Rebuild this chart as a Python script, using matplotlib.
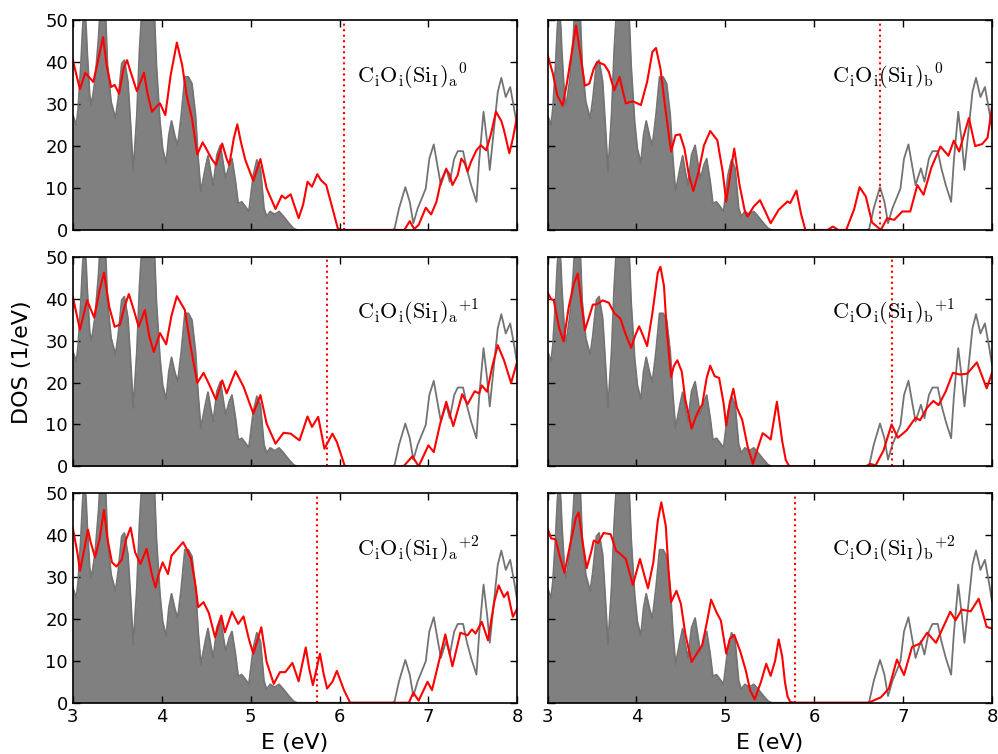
import numpy as np
import matplotlib
matplotlib.use('Agg')
import matplotlib.pyplot as plt

plt.rcParams['mathtext.fontset'] = 'cm'
plt.rcParams['font.family'] = ['DejaVu Sans']

# bulk Si DOS (gray, same in every panel)
E_bulk = [3.00, 3.04, 3.06, 3.09, 3.11, 3.13, 3.15, 3.16, 3.19, 3.21, 3.25, 3.29,
          3.30, 3.33, 3.37, 3.39, 3.43, 3.48, 3.51, 3.55, 3.58, 3.62, 3.65, 3.68,
          3.72, 3.75, 3.77, 3.81, 3.85, 3.89, 3.92, 3.94, 3.98, 4.01, 4.05, 4.08,
          4.11, 4.15, 4.18, 4.22, 4.26, 4.30, 4.34, 4.38, 4.41, 4.44, 4.49, 4.52,
          4.55, 4.58, 4.62, 4.66, 4.70, 4.72, 4.76, 4.79, 4.83, 4.86, 4.90, 4.94,
          4.98, 5.03, 5.07, 5.11, 5.15, 5.18, 5.22, 5.27, 5.32, 5.37, 5.43, 5.48,
          5.52, 6.60, 6.62, 6.67, 6.74, 6.79, 6.83, 6.88, 6.94, 6.97, 7.01, 7.06,
          7.10, 7.14, 7.20, 7.24, 7.29, 7.33, 7.39, 7.43, 7.48, 7.54, 7.57, 7.62,
          7.66, 7.69, 7.73, 7.78, 7.82, 7.87, 7.92, 7.97, 8.00]
dos_bulk = [27.4, 25.0, 29.0, 39.3, 48.0, 54.0, 48.0, 43.0, 32.0, 29.8, 35.7, 46.0,
            50.0, 58.0, 50.0, 39.3, 30.6, 26.6, 31.3, 39.7, 40.5, 35.3, 25.0, 13.9,
            27.4, 43.0, 50.0, 64.0, 68.0, 62.0, 50.0, 39.3, 25.8, 19.4, 15.9, 22.6,
            26.0, 22.2, 20.2, 27.4, 36.5, 36.5, 34.9, 27.4, 17.0, 9.1, 14.7, 17.7,
            13.9, 10.7, 17.9, 20.2, 14.7, 12.3, 15.5, 17.0, 11.5, 6.3, 6.7, 5.6,
            4.4, 13.1, 16.7, 14.7, 5.2, 3.2, 4.4, 3.7, 4.4, 3.2, 1.6, 0.4,
            0.0, 0.0, 0.4, 5.2, 10.2, 6.7, 1.6, 5.2, 8.3, 9.9, 17.0, 20.4,
            15.5, 10.7, 14.7, 11.5, 17.0, 18.8, 18.8, 14.7, 10.7, 6.7, 16.3, 28.2,
            21.0, 14.3, 22.6, 32.9, 36.3, 31.7, 34.1, 28.2, 24.2]

# defect DOS (red)
E_a0 = [3.00, 3.05, 3.08, 3.14, 3.18, 3.23, 3.28, 3.34, 3.38, 3.43, 3.47, 3.52, 3.57,
        3.61, 3.65, 3.72, 3.80, 3.84, 3.89, 3.94, 3.98, 4.04, 4.10, 4.17, 4.23, 4.28,
        4.34, 4.40, 4.46, 4.51, 4.56, 4.61, 4.68, 4.73, 4.76, 4.81, 4.85, 4.89, 4.94,
        5.03, 5.11, 5.18, 5.28, 5.35, 5.39, 5.45, 5.54, 5.59, 5.64, 5.69, 5.75, 5.79,
        5.85, 5.91, 5.98, 6.02, 6.73, 6.79, 6.84, 6.89, 6.97, 7.03, 7.09, 7.14, 7.20,
        7.24, 7.27, 7.33, 7.37, 7.41, 7.44, 7.48, 7.54, 7.59, 7.65, 7.70, 7.76, 7.82,
        7.85, 7.91, 7.95, 8.00]
dos_a0 = [40.5, 36.1, 33.6, 37.5, 36.5, 35.3, 40.1, 46.0, 39.3, 34.1, 34.6, 32.5, 38.5,
          40.5, 37.7, 33.1, 37.5, 32.5, 28.2, 29.4, 30.2, 27.4, 36.9, 44.7, 39.3, 32.1,
          26.6, 18.0, 20.9, 19.0, 17.0, 15.5, 20.6, 17.0, 15.5, 21.8, 25.2, 21.0, 16.7,
          11.7, 16.9, 9.9, 5.0, 8.2, 7.5, 8.5, 2.8, 6.0, 11.5, 10.3, 13.3, 11.9,
          10.7, 6.0, 0.4, 0.0, 0.0, 2.1, 0.2, 1.2, 5.3, 3.7, 6.7, 11.5, 14.5,
          13.1, 10.7, 13.1, 17.0, 15.9, 13.9, 16.3, 19.0, 20.2, 19.0, 22.6, 28.2, 26.0,
          23.8, 18.3, 21.8, 27.4]

E_b0 = [3.00, 3.06, 3.11, 3.17, 3.22, 3.28, 3.32, 3.37, 3.42, 3.47, 3.52, 3.56, 3.64,
        3.69, 3.75, 3.81, 3.88, 3.96, 4.05, 4.12, 4.18, 4.22, 4.27, 4.33, 4.39, 4.44,
        4.49, 4.54, 4.59, 4.64, 4.70, 4.76, 4.83, 4.91, 4.97, 5.01, 5.06, 5.10, 5.16,
        5.22, 5.25, 5.32, 5.39, 5.45, 5.51, 5.60, 5.70, 5.73, 5.80, 5.85, 5.90, 6.15,
        6.21, 6.27, 6.36, 6.45, 6.51, 6.58, 6.65, 6.75, 6.82, 6.90, 6.99, 7.08, 7.16,
        7.23, 7.32, 7.42, 7.51, 7.57, 7.63, 7.74, 7.81, 7.89, 7.95, 8.00]
dos_b0 = [41.8, 37.3, 32.1, 29.6, 35.3, 43.3, 48.8, 41.7, 34.4, 34.9, 38.5, 40.1, 39.4,
          37.7, 33.3, 36.5, 30.2, 30.7, 29.8, 35.3, 42.5, 43.4, 38.5, 28.2, 18.7, 22.6,
          22.8, 19.4, 13.1, 9.3, 13.9, 20.2, 23.6, 21.4, 13.9, 6.7, 13.9, 19.4, 10.7,
          4.4, 3.2, 5.6, 7.1, 4.4, 1.6, 4.8, 6.8, 6.4, 9.4, 4.0, 0.0, 0.0,
          0.8, 0.0, 0.0, 5.0, 10.2, 8.0, 1.8, 0.0, 2.8, 2.4, 4.4, 4.4, 10.7,
          8.4, 15.0, 19.9, 17.7, 21.3, 18.7, 26.7, 20.0, 20.5, 22.0, 29.3]

E_a1 = [3.00, 3.08, 3.16, 3.24, 3.30, 3.35, 3.41, 3.47, 3.53, 3.58, 3.63, 3.69, 3.74,
        3.81, 3.86, 3.91, 3.98, 4.05, 4.11, 4.17, 4.26, 4.33, 4.40, 4.47, 4.53, 4.61,
        4.68, 4.73, 4.83, 4.92, 5.03, 5.11, 5.18, 5.28, 5.37, 5.45, 5.55, 5.64, 5.69,
        5.76, 5.83, 5.92, 5.97, 6.06, 6.72, 6.82, 6.89, 7.00, 7.06, 7.13, 7.20, 7.28,
        7.38, 7.44, 7.52, 7.57, 7.60, 7.66, 7.72, 7.78, 7.85, 7.93, 8.00]
dos_a1 = [40.4, 32.6, 39.6, 35.5, 42.0, 46.2, 38.0, 33.3, 33.8, 38.0, 41.1, 37.0, 33.3,
          37.3, 31.0, 27.3, 31.8, 29.1, 36.0, 40.6, 37.3, 28.0, 19.9, 22.3, 19.7, 15.9,
          20.5, 17.4, 22.7, 19.0, 12.6, 17.0, 10.2, 5.4, 8.0, 7.8, 6.2, 11.9, 9.4,
          11.8, 4.2, 7.8, 5.8, 0.0, 0.0, 2.4, 0.0, 5.0, 3.4, 10.0, 15.4, 9.6,
          17.2, 14.8, 17.9, 17.4, 19.3, 17.8, 24.0, 28.9, 25.3, 19.9, 25.1]

E_b1 = [3.00, 3.04, 3.07, 3.13, 3.18, 3.24, 3.30, 3.34, 3.38, 3.42, 3.47, 3.51, 3.55,
        3.62, 3.69, 3.75, 3.82, 3.88, 3.94, 3.99, 4.03, 4.07, 4.12, 4.18, 4.24, 4.27,
        4.31, 4.34, 4.39, 4.42, 4.46, 4.51, 4.55, 4.62, 4.67, 4.70, 4.74, 4.79, 4.83,
        4.88, 4.93, 4.98, 5.01, 5.05, 5.09, 5.13, 5.19, 5.25, 5.31, 5.36, 5.42, 5.46,
        5.51, 5.58, 5.64, 5.68, 5.72, 6.58, 6.63, 6.69, 6.78, 6.87, 6.94, 7.04, 7.14,
        7.19, 7.27, 7.34, 7.40, 7.48, 7.56, 7.64, 7.72, 7.83, 7.94, 8.00]
dos_b1 = [41.5, 39.9, 39.6, 33.0, 29.8, 38.2, 43.8, 46.0, 39.0, 32.5, 35.8, 38.6, 38.6,
          39.6, 39.0, 36.6, 35.2, 31.4, 28.3, 31.4, 33.4, 31.4, 28.7, 36.6, 46.2, 47.6,
          43.0, 32.7, 21.3, 23.9, 25.3, 22.6, 15.9, 9.0, 11.9, 13.3, 14.7, 21.1, 24.0,
          21.5, 21.1, 15.1, 9.7, 15.1, 18.5, 14.0, 11.1, 4.8, 0.6, 4.0, 7.9, 7.3,
          6.4, 15.4, 6.0, 1.5, 0.0, 0.0, 0.6, 0.2, 3.8, 10.0, 6.8, 8.6, 11.6,
          11.0, 14.0, 15.6, 14.6, 17.9, 22.3, 21.9, 22.1, 24.8, 18.6, 22.3]

E_a2 = [3.00, 3.05, 3.08, 3.13, 3.17, 3.20, 3.25, 3.30, 3.35, 3.39, 3.44, 3.49, 3.55,
        3.60, 3.65, 3.70, 3.76, 3.83, 3.89, 3.93, 3.96, 4.01, 4.07, 4.11, 4.16, 4.24,
        4.28, 4.33, 4.38, 4.41, 4.47, 4.53, 4.60, 4.67, 4.71, 4.79, 4.86, 4.92, 4.98,
        5.03, 5.12, 5.18, 5.26, 5.33, 5.39, 5.47, 5.54, 5.62, 5.66, 5.70, 5.78, 5.82,
        5.86, 5.92, 5.97, 6.05, 6.12, 6.78, 6.83, 6.89, 6.99, 7.04, 7.12, 7.19, 7.27,
        7.36, 7.44, 7.49, 7.53, 7.60, 7.67, 7.74, 7.79, 7.85, 7.89, 7.95, 8.00]
dos_a2 = [41.6, 35.9, 31.5, 36.7, 41.3, 38.3, 34.7, 39.0, 46.0, 39.0, 33.5, 32.5, 34.1,
          39.0, 41.8, 35.9, 33.1, 36.7, 30.5, 27.5, 30.3, 33.5, 30.7, 35.1, 36.3, 38.3,
          36.7, 34.3, 27.9, 22.8, 24.0, 21.4, 15.6, 20.8, 16.8, 21.7, 18.8, 20.6, 15.2,
          11.7, 18.0, 9.7, 4.5, 7.3, 7.3, 9.5, 5.1, 13.2, 8.0, 4.2, 11.7, 7.0,
          3.4, 5.0, 7.6, 3.0, 0.0, 0.0, 2.4, 0.5, 5.0, 3.0, 10.0, 16.3, 8.7,
          16.7, 16.1, 17.5, 16.5, 19.3, 14.9, 24.0, 28.0, 25.2, 26.4, 20.5, 22.5]

E_b2 = [3.00, 3.04, 3.09, 3.13, 3.19, 3.26, 3.32, 3.35, 3.39, 3.44, 3.49, 3.52, 3.57,
        3.63, 3.71, 3.77, 3.82, 3.88, 3.96, 4.04, 4.09, 4.13, 4.19, 4.24, 4.28, 4.33,
        4.36, 4.39, 4.45, 4.50, 4.55, 4.62, 4.69, 4.74, 4.80, 4.84, 4.90, 4.95, 5.01,
        5.05, 5.10, 5.17, 5.23, 5.28, 5.33, 5.40, 5.46, 5.51, 5.56, 5.60, 5.64, 5.67,
        5.70, 5.73, 5.77, 6.61, 6.75, 6.84, 6.93, 7.01, 7.10, 7.19, 7.27, 7.37, 7.53,
        7.59, 7.66, 7.76, 7.85, 7.94, 8.00]
dos_b2 = [41.6, 39.2, 39.0, 35.5, 31.0, 38.3, 44.2, 45.4, 39.0, 32.1, 35.9, 38.7, 38.1,
          40.5, 40.2, 36.3, 35.5, 34.3, 28.1, 34.3, 30.3, 27.3, 33.5, 43.4, 47.8, 42.2,
          31.9, 24.0, 26.7, 23.6, 16.4, 9.7, 12.1, 13.7, 20.0, 24.6, 21.6, 19.6, 11.7,
          15.2, 16.2, 12.1, 7.7, 2.9, 0.8, 4.9, 9.3, 6.4, 10.0, 15.1, 11.0, 5.0,
          1.5, 0.2, 0.0, 0.0, 1.3, 3.4, 10.3, 6.6, 13.3, 14.1, 16.7, 14.3, 21.7,
          19.7, 22.2, 21.8, 24.8, 18.1, 17.7]

# Fermi levels (eV)
fermi = {'a0': 6.05, 'b0': 6.745, 'a1': 5.86, 'b1': 6.87, 'a2': 5.75, 'b2': 5.78}
charges = ['0', '+1', '+2']


def draw_panel(ax, E, dos, ef, label):
    eb = np.array(E_bulk)
    db = np.array(dos_bulk)
    ax.fill_between(eb, 0, db, where=eb <= 6.0, color='#808080', lw=0)
    ax.plot(eb, db, color='#737373', lw=1.3)
    ax.plot(E, dos, color='red', lw=1.5)
    ax.axvline(ef, color='red', ls=':', lw=1.5)
    ax.text(0.64, 0.70, label, transform=ax.transAxes, fontsize=16,
            ha='left', va='baseline')
    ax.set_xlim(3, 8)
    ax.set_ylim(0, 50)
    ax.set_xticks([3, 4, 5, 6, 7, 8])
    ax.set_yticks([0, 10, 20, 30, 40, 50])
    ax.tick_params(direction='in', top=True, right=True, length=5,
                   labelsize=13, width=1)
    for s in ax.spines.values():
        s.set_linewidth(1.2)


def main():
    fig, axes = plt.subplots(3, 2, figsize=(9.98, 7.54), dpi=100)
    fig.subplots_adjust(left=0.073, right=0.994, top=0.973, bottom=0.068,
                        wspace=0.068, hspace=0.128)

    data = {
        'a0': (E_a0, dos_a0), 'b0': (E_b0, dos_b0),
        'a1': (E_a1, dos_a1), 'b1': (E_b1, dos_b1),
        'a2': (E_a2, dos_a2), 'b2': (E_b2, dos_b2),
    }

    for i, q in enumerate(charges):
        for j, conf in enumerate(['a', 'b']):
            key = conf + str(i)
            E, dos = data[key]
            label = r'$\mathrm{C_iO_i(Si_I)_%s}^{%s}$' % (conf, q)
            ax = axes[i, j]
            draw_panel(ax, E, dos, fermi[key], label)
            if i < 2:
                ax.set_xticklabels([])
            else:
                ax.set_xlabel('E (eV)', fontsize=16, labelpad=5)
            if j == 1:
                ax.set_yticklabels([])

    fig.text(0.022, 0.52, 'DOS (1/eV)', rotation=90, fontsize=16,
             ha='center', va='center')

    fig.savefig('out.png', dpi=100)
    plt.close(fig)


if __name__ == '__main__':
    main()
